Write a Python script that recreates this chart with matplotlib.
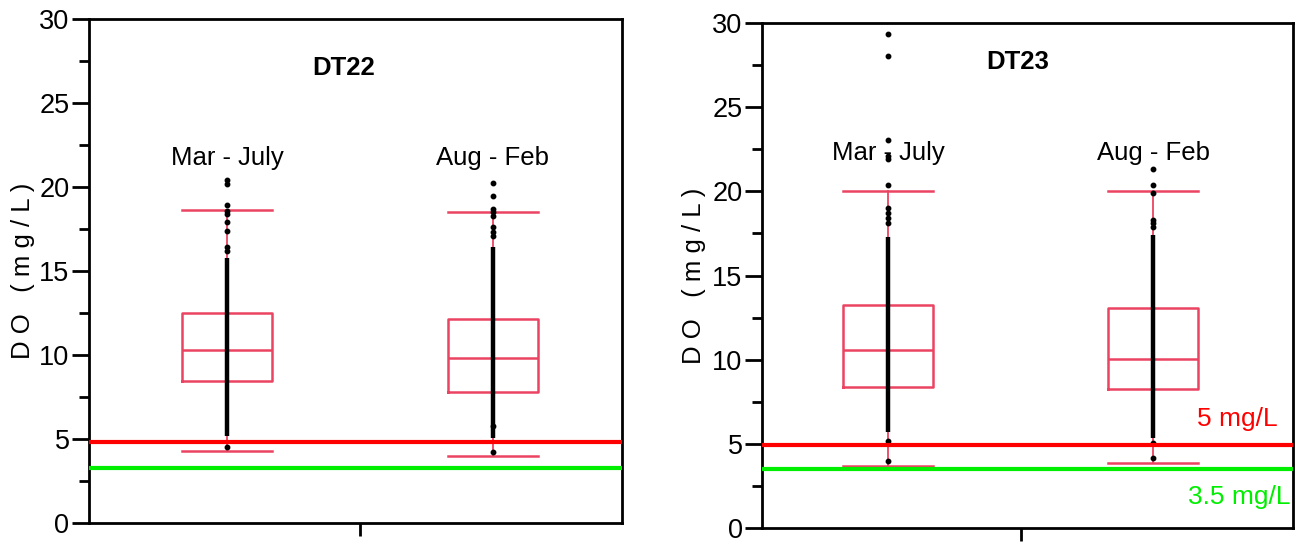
import matplotlib
matplotlib.use("Agg")
from matplotlib import pyplot as plt
from matplotlib.ticker import MultipleLocator

plt.rcParams['font.family'] = ['Liberation Sans', 'DejaVu Sans']

# sites and seasons
sites = ["DT22", "DT23"]
seasons = ["Mar - July", "Aug - Feb"]

# box statistics (whislo, q1, median, q3, whishi) per site, per season
dt22_stats = [(4.3, 8.45, 10.3, 12.5, 18.65), (4.0, 7.8, 9.8, 12.15, 18.5)]
dt23_stats = [(3.68, 8.38, 10.55, 13.25, 20.05), (3.86, 8.26, 10.05, 13.07, 20.05)]

# range where the observations are packed so tightly they form a solid column
dt22_dense = [(5.2, 15.8), (5.05, 16.4)]
dt23_dense = [(5.7, 17.3), (5.35, 17.4)]

# single observations that stand apart from the column
dt22_points = [[4.5, 16.2, 16.4, 17.4, 17.9, 18.4, 18.6, 18.9, 20.2, 20.4],
               [4.2, 5.8, 17.1, 17.3, 17.6, 18.3, 18.5, 18.7, 19.45, 20.25]]
dt23_points = [[3.98, 5.17, 18.1, 18.4, 18.7, 19.0, 20.35, 21.95, 22.1, 23.05, 28.05, 29.35],
               [4.16, 5.05, 17.9, 18.1, 18.3, 19.9, 20.38, 21.33]]

# reference levels as drawn on each panel
red_level = [4.85, 4.93]
green_level = [3.27, 3.5]

box_color = '#ea4462'

fig = plt.figure(figsize=(13.06, 5.42), dpi=100)
ax1 = fig.add_axes([0.0681, 0.035, 0.408, 0.930])
ax2 = fig.add_axes([0.5835, 0.0258, 0.4066, 0.9317])

panels = [(ax1, dt22_stats, dt22_dense, dt22_points, (0.481, 2.485), 21.7, (1.44, 27.1), -0.101),
          (ax2, dt23_stats, dt23_dense, dt23_points, (0.525, 2.528), 22.3, (1.49, 27.7), -0.105)]

for i, (ax, stats, dense, points, xlim, lab_y, title_xy, ylab_x) in enumerate(panels):
    bxp_stats = []
    for s, name in zip(stats, seasons):
        bxp_stats.append({'whislo': s[0], 'q1': s[1], 'med': s[2], 'q3': s[3],
                          'whishi': s[4], 'label': name, 'fliers': []})
    line = dict(color=box_color, linewidth=1.8)
    ax.bxp(bxp_stats, positions=[1, 2], widths=0.34, showfliers=False,
           boxprops=line, whiskerprops=dict(color=box_color, linewidth=1.3),
           capprops=line, medianprops=line, capwidths=0.34, zorder=2)

    for pos, (lo, hi), pts in zip([1, 2], dense, points):
        ax.vlines(pos, lo, hi, colors='black', linewidth=3.2, zorder=3)
        ax.plot([pos] * len(pts), pts, 'o', color='black', markersize=3.2, zorder=3)

    ax.axhline(red_level[i], color='#ff0000', linewidth=3, zorder=4)
    ax.axhline(green_level[i], color='#00ee00', linewidth=3, zorder=4)

    for pos, name in zip([1, 2], seasons):
        ax.text(pos, lab_y, name, ha='center', va='center', fontsize=18.5, zorder=1)
    ax.text(title_xy[0], title_xy[1], sites[i], ha='center', va='center',
            fontsize=18.5, fontweight='bold')

    ax.set_xlim(*xlim)
    ax.set_ylim(0, 30)
    ax.set_xticks([1.5])
    ax.set_xticklabels([''])
    ax.yaxis.set_major_locator(MultipleLocator(5))
    ax.yaxis.set_minor_locator(MultipleLocator(2.5))
    ax.tick_params(axis='y', which='major', length=12, width=2,
                   labelsize=19.5, pad=2)
    ax.tick_params(axis='y', which='minor', length=7, width=2)
    ax.tick_params(axis='x', length=9, width=2)
    for sp in ax.spines.values():
        sp.set_linewidth(2)
    ax.set_ylabel("D O   ( m g / L )", fontsize=18.5)
    ax.yaxis.set_label_coords(ylab_x, 0.5)

ax2.text(2.47, 6.5, "5 mg/L", color='#ff0000', ha='right', va='center', fontsize=19)
ax2.text(2.52, 1.85, "3.5 mg/L", color='#00ee00', ha='right', va='center', fontsize=19)

fig.savefig("out.png", dpi=100)
